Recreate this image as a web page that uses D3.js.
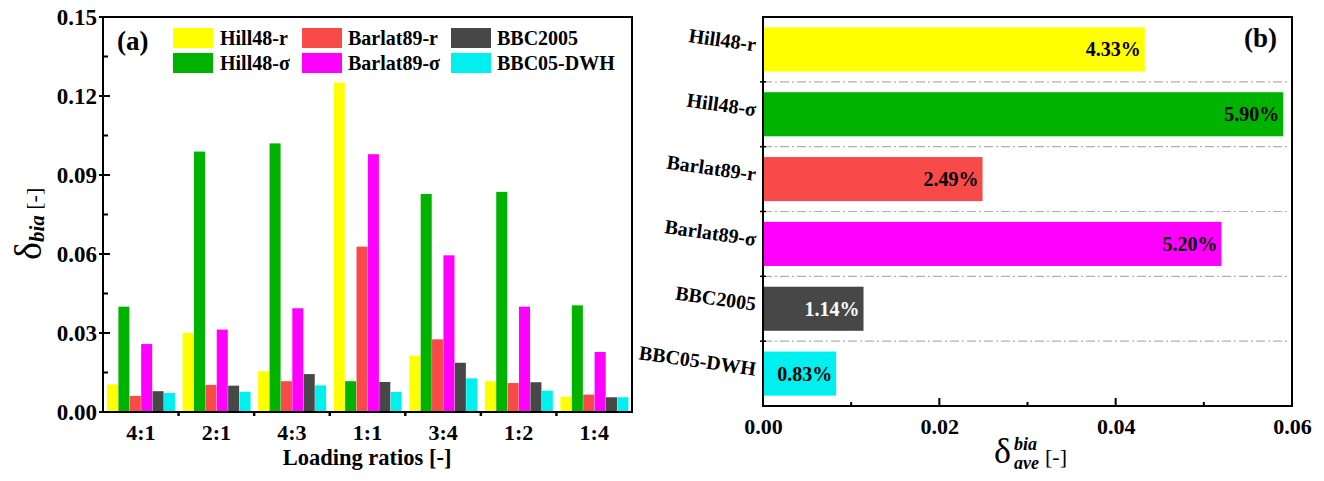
<!DOCTYPE html>
<html><head><meta charset="utf-8">
<script src="https://cdn.jsdelivr.net/npm/d3@7"></script>
<style>body{margin:0;background:#fff}svg{display:block}text{font-family:"Liberation Serif","Times New Roman",serif}</style>
</head><body><svg id="c" width="1324" height="481"></svg>
<script>
const categories = ["4:1","2:1","4:3","1:1","3:4","1:2","1:4"];
const seriesNames = ["Hill48-r","Hill48-σ","Barlat89-r","Barlat89-σ","BBC2005","BBC05-DWH"];
const seriesColors = ["#FFFF00","#00B300","#F94A4A","#FF00FF","#474747","#00F0F0"];
const hill48r   = [0.0105,0.0300,0.0155,0.1251,0.0214,0.0117,0.0058];
const hill48s   = [0.0400,0.0989,0.1020,0.0117,0.0828,0.0836,0.0405];
const barlat89r = [0.0061,0.0103,0.0117,0.0628,0.0276,0.0110,0.0066];
const barlat89s = [0.0258,0.0313,0.0394,0.0979,0.0595,0.0400,0.0228];
const bbc2005   = [0.0079,0.0100,0.0144,0.0114,0.0187,0.0113,0.0056];
const bbc05dwh  = [0.0072,0.0077,0.0101,0.0076,0.0128,0.0081,0.0056];
const yTicksA = [0.00,0.03,0.06,0.09,0.12,0.15];
const aveValues = [0.0433,0.0590,0.0249,0.0520,0.0114,0.0083];
const aveLabels = ["4.33%","5.90%","2.49%","5.20%","1.14%","0.83%"];
const xTicksB = [0.00,0.02,0.04,0.06];

const svg = d3.select("#c");
const seriesData = [hill48r,hill48s,barlat89r,barlat89s,bbc2005,bbc05dwh];

// ---------- Panel (a)
const A = {l:103, r:632, t:17, b:412};
const x0 = d3.scaleBand().domain(categories).range([A.l, A.r]);
const x1 = d3.scaleBand().domain(d3.range(6)).range([4, x0.bandwidth()-3.6]).paddingInner(0.03);
const yA = d3.scaleLinear().domain([0,0.15]).range([A.b, A.t]);

const gA = svg.append("g");
categories.forEach((c,ci)=>{
  seriesData.forEach((s,si)=>{
    gA.append("rect").attr("x", x0(c)+x1(si)).attr("width", x1.bandwidth())
      .attr("y", yA(s[ci])).attr("height", yA(0)-yA(s[ci]))
      .attr("fill", seriesColors[si]);
  });
});
gA.append("rect").attr("x",A.l).attr("y",A.t).attr("width",A.r-A.l).attr("height",A.b-A.t)
  .attr("fill","none").attr("stroke","#000").attr("stroke-width",2);
const yAxisA = d3.axisLeft(yA).tickValues(yTicksA).tickFormat(d3.format(".2f")).tickSize(0).tickPadding(6);
const ga = svg.append("g").attr("transform",`translate(${A.l},0)`).call(yAxisA);
ga.select(".domain").remove();
ga.selectAll("text").attr("font-size",23).attr("font-weight","bold").attr("fill","#000").attr("dy","0.34em");
yTicksA.forEach(v=>{ svg.append("line").attr("x1",A.l-4).attr("x2",A.l+7).attr("y1",yA(v)).attr("y2",yA(v)).attr("stroke","#000").attr("stroke-width",2); });
d3.range(0.015,0.15,0.03).forEach(v=>{ svg.append("line").attr("x1",A.l).attr("x2",A.l+5).attr("y1",yA(v)).attr("y2",yA(v)).attr("stroke","#000").attr("stroke-width",2); });
const xAxisA = d3.axisBottom(x0).tickSize(0).tickPadding(12);
const gx = svg.append("g").attr("transform",`translate(0,${A.b})`).call(xAxisA);
gx.select(".domain").remove();
gx.selectAll("text").attr("font-size",22).attr("font-weight","bold").attr("fill","#000");
categories.slice(1).forEach(c=>{ svg.append("line").attr("x1",x0(c)).attr("x2",x0(c)).attr("y1",A.b).attr("y2",A.b+4).attr("stroke","#000").attr("stroke-width",2.5); });
svg.append("text").attr("x",367).attr("y",465).attr("text-anchor","middle").attr("font-size",22.5).attr("font-weight","bold").text("Loading ratios [-]");
const yt = svg.append("text").attr("transform","translate(41,260) rotate(-90)");
yt.append("tspan").attr("font-size",38).text("δ");
yt.append("tspan").attr("font-size",21).attr("font-weight","bold").attr("font-style","italic").attr("dy",3).text("bia");
yt.append("tspan").attr("font-size",22).attr("dy",-3).text(" [-]");
svg.append("text").attr("x",117).attr("y",50).attr("font-size",27).attr("font-weight","bold").text("(a)");
const legCols = [[173,220],[302,348],[451,497]];
const legRowsY = [28,53];
seriesNames.forEach((n,i)=>{
  const col = Math.floor(i/2), row = i%2;
  svg.append("rect").attr("x",legCols[col][0]).attr("y",legRowsY[row]).attr("width",40).attr("height",20).attr("fill",seriesColors[i]);
  svg.append("text").attr("x",legCols[col][1]).attr("y",legRowsY[row]+17).attr("font-size",20).attr("font-weight","bold").text(n);
});

// ---------- Panel (b)
const B = {l:763, r:1292, t:17, b:406};
const xB = d3.scaleLinear().domain([0,0.06]).range([B.l,B.r]);
const yB = d3.scaleBand().domain(seriesNames).range([B.t,B.b]).paddingInner(0.32).paddingOuter(0.16);
const step = yB.step();
seriesNames.slice(1).forEach((n)=>{
  const y = yB(n) - step*0.32/2;
  svg.append("line").attr("x1",B.l).attr("x2",B.r-2).attr("y1",y).attr("y2",y)
    .attr("stroke","#b0b0b0").attr("stroke-width",1.2).attr("stroke-dasharray","9,3,2,3");
  svg.append("line").attr("x1",B.l-3).attr("x2",B.l+3).attr("y1",y).attr("y2",y).attr("stroke","#000").attr("stroke-width",1.5);
});
seriesNames.forEach((n,i)=>{
  svg.append("rect").attr("x",xB(0)).attr("y",yB(n)).attr("width",xB(aveValues[i])-xB(0)).attr("height",yB.bandwidth()).attr("fill",seriesColors[i]);
  svg.append("text").attr("x",xB(aveValues[i])-4).attr("y",yB(n)+yB.bandwidth()/2+7).attr("text-anchor","end")
    .attr("font-size",20).attr("font-weight","bold").attr("fill", i===4?"#fff":"#000").text(aveLabels[i]);
  svg.append("text").attr("transform",`translate(755,${yB(n)+yB.bandwidth()/2+2}) rotate(8)`).attr("text-anchor","end")
    .attr("font-size",20).attr("font-weight","bold").text(n);
});
svg.append("rect").attr("x",B.l).attr("y",B.t).attr("width",B.r-B.l).attr("height",B.b-B.t)
  .attr("fill","none").attr("stroke","#000").attr("stroke-width",2);
const xAxisB = d3.axisBottom(xB).tickValues(xTicksB).tickFormat(d3.format(".2f")).tickSize(0).tickPadding(12);
const gb = svg.append("g").attr("transform",`translate(0,${B.b})`).call(xAxisB);
gb.select(".domain").remove();
gb.selectAll("text").attr("font-size",22).attr("font-weight","bold").attr("fill","#000");
xTicksB.slice(1,-1).forEach(v=>{ svg.append("line").attr("x1",xB(v)).attr("x2",xB(v)).attr("y1",B.b).attr("y2",B.b-8).attr("stroke","#000").attr("stroke-width",2); });
[0.01,0.03,0.05].forEach(v=>{ svg.append("line").attr("x1",xB(v)).attr("x2",xB(v)).attr("y1",B.b).attr("y2",B.b-4).attr("stroke","#000").attr("stroke-width",2); });
svg.append("text").attr("x",1277).attr("y",47).attr("text-anchor","end").attr("font-size",27).attr("font-weight","bold").text("(b)");
const xt = svg.append("g");
xt.append("text").attr("x",994).attr("y",463).attr("font-size",36).text("δ");
xt.append("text").attr("x",1014).attr("y",450).attr("font-size",18).attr("font-weight","bold").attr("font-style","italic").text("bia");
xt.append("text").attr("x",1014).attr("y",469).attr("font-size",18).attr("font-weight","bold").attr("font-style","italic").text("ave");
xt.append("text").attr("x",1045).attr("y",464).attr("font-size",22).text("[-]");
</script></body></html>
